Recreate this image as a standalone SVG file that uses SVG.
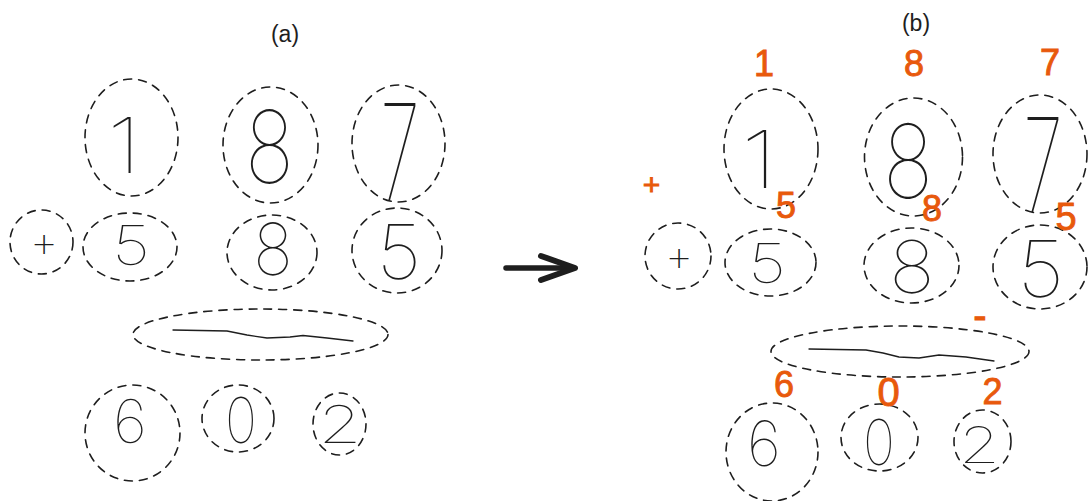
<svg xmlns="http://www.w3.org/2000/svg" width="1088" height="501" viewBox="0 0 1088 501">
<style>
.d{fill:none;stroke:#1e1e1e;stroke-width:1.6;stroke-dasharray:8 7;stroke-linecap:round}
.h{font-family:Inter,"Noto Sans",sans-serif;font-weight:100;font-size:100px;fill:#1e1e1e;text-anchor:middle}
.p{font-family:"DejaVu Sans",sans-serif;font-weight:200;font-size:30px;fill:#1e1e1e;text-anchor:middle}
.o{font-family:"Liberation Sans",Arial,sans-serif;font-size:36px;fill:#e8590c;stroke:#e8590c;stroke-width:0.9;text-anchor:middle}
.t{font-family:"Liberation Sans",Arial,sans-serif;font-size:23px;fill:#1e1e1e;text-anchor:middle}
.w{fill:none;stroke:#1e1e1e;stroke-width:1.3;stroke-linecap:round;stroke-linejoin:round}
</style>
<rect width="1088" height="501" fill="#ffffff"/>
<g id="title-a"><text class="t" x="285" y="42">(a)</text></g>
<g id="title-b"><text class="t" x="916" y="31">(b)</text></g>

<g id="a-d1"><ellipse class="d" cx="131.5" cy="137.5" rx="46.5" ry="58.5"/><text class="h" transform="translate(124,173) scale(0.93,0.77)">1</text></g>
<g id="a-d8"><ellipse class="d" cx="270.5" cy="145" rx="47.5" ry="58"/><text class="h" transform="translate(269.5,183) scale(0.82,1.0)">8</text></g>
<g id="a-d7"><ellipse class="d" cx="398.5" cy="143.5" rx="46.5" ry="58.5"/><text class="h" transform="translate(400,200) scale(0.73,1.33)">7</text></g>
<g id="a-plus"><ellipse class="d" cx="41.5" cy="242" rx="31.5" ry="32"/><text class="p" x="44" y="254">+</text></g>
<g id="a-d5"><ellipse class="d" cx="130" cy="247" rx="47" ry="34"/><text class="h" transform="translate(131,265) scale(0.67,0.55)">5</text></g>
<g id="a-d8b"><ellipse class="d" cx="272" cy="252.5" rx="45" ry="37.5"/><text class="h" transform="translate(273,275) scale(0.66,0.72)">8</text></g>
<g id="a-d5b"><ellipse class="d" cx="397" cy="250.5" rx="45" ry="42.5"/><text class="h" transform="translate(399,279) scale(0.79,0.76)">5</text></g>
<g id="a-minus"><ellipse class="d" cx="260.5" cy="334.5" rx="127.5" ry="25.5"/><path class="w" d="M173,330 L227,331 L247,335 L267,338 L290,337 L303,335.5 L327,338 L353,341"/></g>
<g id="a-d6"><ellipse class="d" cx="132.5" cy="433" rx="47.5" ry="48"/><text class="h" transform="translate(130,443) scale(0.6,0.6)">6</text></g>
<g id="a-d0"><ellipse class="d" cx="238" cy="418.5" rx="36" ry="33.5"/><text class="h" transform="translate(241,443) scale(0.54,0.63)">0</text></g>
<g id="a-d2"><ellipse class="d" cx="339.5" cy="424" rx="26.5" ry="31"/><text class="h" transform="translate(340,443) scale(0.7,0.52)">2</text></g>

<g id="connectors">
<path d="M506,268 L573,268" fill="none" stroke="#1e1e1e" stroke-width="5.5" stroke-linecap="round"/>
<path d="M541,256 L575,268 L541,280" fill="none" stroke="#1e1e1e" stroke-width="6" stroke-linecap="round" stroke-linejoin="round"/>
</g>

<g id="b-d1"><ellipse class="d" cx="771" cy="149" rx="47" ry="60"/><text class="h" transform="translate(759,188) scale(1.0,0.8)">1</text><text class="o" x="764" y="76">1</text></g>
<g id="b-d8"><ellipse class="d" cx="913.5" cy="157" rx="49" ry="59"/><text class="h" transform="translate(908,198) scale(0.84,1.02)">8</text><text class="o" x="914" y="76">8</text></g>
<g id="b-d7"><ellipse class="d" cx="1040" cy="154" rx="47" ry="59"/><text class="h" transform="translate(1043,212) scale(0.73,1.31)">7</text><text class="o" x="1050" y="75">7</text></g>
<g id="b-plus"><ellipse class="d" cx="678" cy="256" rx="33" ry="33"/><text class="p" x="679" y="268">+</text><text class="o" x="651.5" y="195" style="font-size:30px">+</text></g>
<g id="b-d5"><ellipse class="d" cx="770.5" cy="262.5" rx="45.5" ry="33.5"/><text class="h" transform="translate(767,283) scale(0.67,0.55)">5</text><text class="o" x="786" y="218">5</text></g>
<g id="b-d8b"><ellipse class="d" cx="911.5" cy="265.5" rx="47.5" ry="37.5"/><text class="h" transform="translate(912,293) scale(0.76,0.73)">8</text><text class="o" x="932" y="221">8</text></g>
<g id="b-d5b"><ellipse class="d" cx="1040" cy="267" rx="47" ry="42"/><text class="h" transform="translate(1041,297) scale(0.83,0.78)">5</text><text class="o" x="1066" y="230" style="font-size:38px">5</text></g>
<g id="b-minus"><ellipse class="d" cx="900" cy="351.5" rx="129" ry="25.5"/><path class="w" d="M809,349 L866,350 L883,353 L899,357 L919,358 L939,355 L966,357 L994,361"/><text class="o" x="980" y="329" style="font-size:40px">-</text></g>
<g id="b-d6"><ellipse class="d" cx="772" cy="452" rx="46" ry="49"/><text class="h" transform="translate(764,466) scale(0.6,0.62)">6</text><text class="o" x="784" y="397">6</text></g>
<g id="b-d0"><ellipse class="d" cx="879.5" cy="437.5" rx="38.5" ry="33.5"/><text class="h" transform="translate(879,465) scale(0.54,0.63)">0</text><text class="o" x="888.5" y="406" style="font-size:40px">0</text></g>
<g id="b-d2"><ellipse class="d" cx="982.5" cy="441.5" rx="28.5" ry="31.5"/><text class="h" transform="translate(979.5,463) scale(0.66,0.5)">2</text><text class="o" x="992.5" y="404">2</text></g>
</svg>
